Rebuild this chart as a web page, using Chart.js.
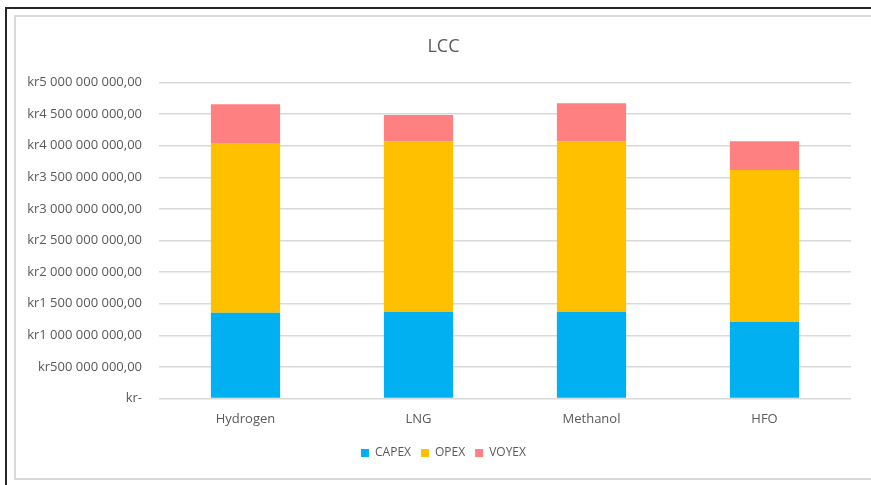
<!DOCTYPE html>
<html lang="en">
<head>
    <meta charset="UTF-8">
    <title>LCC</title>
    <script src="https://cdn.jsdelivr.net/npm/chart.js"></script>
    <style>
        body { margin: 0; background: #fff; font-family: "Open Sans", sans-serif; }
        .outer {
            position: absolute; left: 5px; top: 7px; width: 880px; height: 490px;
            border-left: 2px solid #262626; border-top: 2px solid #262626;
        }
        .frame {
            position: absolute; left: 14px; top: 15px; width: 870px; height: 461px;
            border: 2px solid #d9d9d9;
        }
        .wrap { position: absolute; left: 0; top: 0; width: 871px; height: 485px; }
    </style>
</head>
<body>
    <div class="outer"></div>
    <div class="frame"></div>
    <div class="wrap"><canvas id="lcc"></canvas></div>

    <script>
        const fuels = ['Hydrogen', 'LNG', 'Methanol', 'HFO'];
        const capex = [1357000000, 1373000000, 1373000000, 1210000000];
        const opex  = [2687000000, 2698000000, 2698000000, 2406000000];
        const voyex = [615000000, 418000000, 604000000, 455000000];

        const textColor = '#595959';

        // kr 1 234 567,00 style, zero shown as "kr-"
        function formatKr(v) {
            if (v === 0) return 'kr-';
            const whole = Math.round(v).toString().replace(/\B(?=(\d{3})+(?!\d))/g, ' ');
            return 'kr' + whole + ',00';
        }

        new Chart(document.getElementById('lcc'), {
            type: 'bar',
            data: {
                labels: fuels,
                datasets: [
                    { label: 'CAPEX', data: capex, backgroundColor: '#00B0F0' },
                    { label: 'OPEX', data: opex, backgroundColor: '#FFC000' },
                    { label: 'VOYEX', data: voyex, backgroundColor: '#FF8080' }
                ]
            },
            options: {
                responsive: true,
                maintainAspectRatio: false,
                animation: false,
                layout: { padding: { left: 16, right: 0, top: 0, bottom: 16 } },
                datasets: { bar: { categoryPercentage: 1.0, barPercentage: 0.4 } },
                plugins: {
                    title: {
                        display: true,
                        text: 'LCC',
                        color: textColor,
                        font: { family: 'Open Sans', size: 18, weight: 'normal' },
                        padding: { top: 36, bottom: 25 }
                    },
                    legend: {
                        position: 'bottom',
                        labels: {
                            color: textColor,
                            font: { family: 'Open Sans', size: 12 },
                            boxWidth: 8,
                            boxHeight: 8,
                            padding: 10
                        }
                    },
                    tooltip: { enabled: false }
                },
                scales: {
                    x: {
                        stacked: true,
                        grid: { display: false },
                        border: { display: false },
                        ticks: { color: textColor, font: { family: 'Open Sans', size: 13 }, padding: 4.5 },
                        afterFit: scale => { scale.height = 38.5; }
                    },
                    y: {
                        stacked: true,
                        min: 0,
                        max: 5000000000,
                        grid: { color: '#d9d9d9', lineWidth: 1.5, drawTicks: false },
                        border: { display: false },
                        ticks: {
                            stepSize: 500000000,
                            color: textColor,
                            font: { family: 'Open Sans', size: 13 },
                            padding: 17,
                            callback: v => formatKr(v)
                        },
                        afterFit: scale => { scale.width = 143; }
                    },
                    // empty right margin so title and legend stay centred on the frame
                    gap: {
                        type: 'linear',
                        position: 'right',
                        display: true,
                        grid: { display: false },
                        border: { display: false },
                        ticks: { display: false },
                        afterFit: scale => { scale.width = 20; }
                    }
                }
            }
        });
    </script>
</body>
</html>
